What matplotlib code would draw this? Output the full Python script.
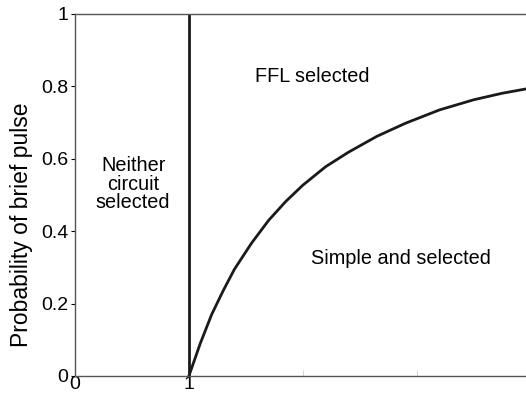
import matplotlib
matplotlib.use("Agg")
from matplotlib import pyplot as plt

# boundary between "FFL selected" and "Simple and selected"
curve_x = [1.0, 1.05, 1.1, 1.2, 1.3, 1.4, 1.55, 1.7, 1.85, 2.0, 2.2, 2.4,
           2.65, 2.9, 3.2, 3.5, 3.75, 3.96]
curve_y = [0.0, 0.045, 0.09, 0.17, 0.235, 0.295, 0.367, 0.43, 0.482, 0.527, 0.578, 0.618,
           0.662, 0.698, 0.735, 0.763, 0.781, 0.793]
threshold_x = 1.0

plt.rcParams.update({'font.family': 'Liberation Sans', 'font.size': 14})
fig = plt.figure(figsize=(5.26, 4.0), dpi=100)
ax = fig.add_axes([0.1426, 0.06, 0.8574, 0.905])

ax.plot(curve_x, curve_y, color="#1a1a1a", linewidth=2.0, solid_joinstyle="round")
ax.plot([threshold_x, threshold_x], [0, 1], color="#1a1a1a", linewidth=2.0)

ax.text(2.08, 0.827, "FFL selected", ha="center", va="center", fontsize=14.3)
ax.text(2.86, 0.325, "Simple and selected", ha="center", va="center", fontsize=14.3)
ax.text(0.51, 0.53, "Neither\ncircuit\nselected", ha="center", va="center",
        fontsize=14.3, linespacing=0.95)

ax.set_xlim(0, 3.96)
ax.set_ylim(0, 1)
ax.set_xticks([0, 1])
ax.set_xticks([2, 3], minor=True)
ax.set_xticklabels(["0", "1"])
ax.set_yticks([0, 0.2, 0.4, 0.6, 0.8, 1])
ax.set_yticklabels(["0", "0.2", "0.4", "0.6", "0.8", "1"])
ax.tick_params(axis="y", direction="out", length=3, labelsize=14, pad=2)
ax.tick_params(axis="x", which="major", direction="in", length=0, labelsize=14, pad=0)
ax.tick_params(axis="x", which="minor", direction="in", length=4, color="#cccccc")
ax.set_ylabel("Probability of brief pulse", fontsize=16.5)
ax.yaxis.set_label_coords(-0.094, 0.417)

for side in ["left", "top", "bottom"]:
    ax.spines[side].set_color("#555555")
    ax.spines[side].set_linewidth(1.0)
ax.spines["right"].set_visible(False)

plt.savefig("out.png", dpi=100)
